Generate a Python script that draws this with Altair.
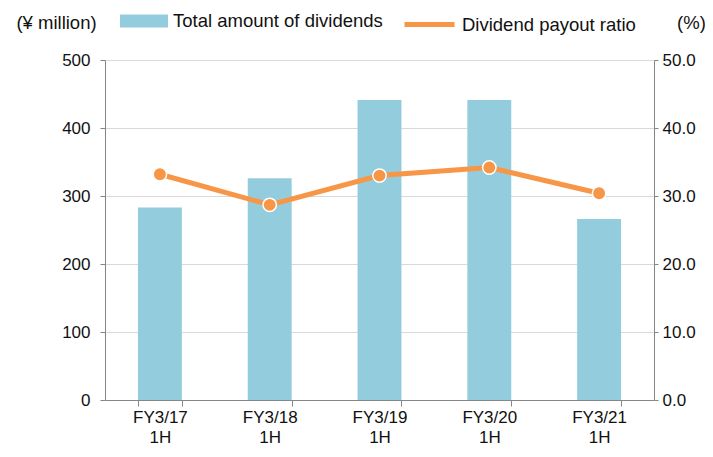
import altair as alt
import pandas as pd

categories = ["FY3/17\n1H", "FY3/18\n1H", "FY3/19\n1H", "FY3/20\n1H", "FY3/21\n1H"]
dividends = [283, 326, 441, 441, 266]
payout = [33.2, 28.7, 33.0, 34.2, 30.4]
bar_name = "Total amount of dividends"
line_name = "Dividend payout ratio"

BLUE = "#93CDDD"
ORANGE = "#F79646"
FONT = "Liberation Sans"
TXT = "#111111"

df = pd.DataFrame({
    "cat": categories,
    "div": dividends,
    "pct": payout,
    "bs": [bar_name] * len(categories),
    "ls": [line_name] * len(categories),
})

xenc = alt.X(
    "cat:N", sort=categories, title=None,
    scale=alt.Scale(paddingInner=0.6, paddingOuter=0.3),
    axis=alt.Axis(labelAngle=0, labelExpr="split(datum.label, '\\n')",
                  labelLineHeight=20, labelFontSize=17, labelPadding=3,
                  tickBand="extent", tickSize=6, domainColor="#868686",
                  tickColor="#868686", labelColor=TXT, grid=False,
                  labelBaseline="top"),
)

bars = alt.Chart(df).mark_bar().encode(
    x=xenc,
    y=alt.Y("div:Q", scale=alt.Scale(domain=[0, 500]),
            axis=alt.Axis(values=[0, 100, 200, 300, 400, 500], title="(¥ million)",
                          titleAngle=0, titleX=-49, titleY=-38, titleAlign="center",
                          titleBaseline="middle", titleFontSize=18.5, titleFontWeight="normal",
                          titleColor=TXT,
                          labelFontSize=17, labelPadding=10, tickSize=5,
                          domainColor="#868686", tickColor="#868686", labelColor=TXT,
                          grid=True, gridColor="#D9D9D9", gridWidth=1)),
    color=alt.Color("bs:N", scale=alt.Scale(range=[BLUE]),
                    legend=alt.Legend(orient="none", legendX=15, legendY=-63, title=None,
                                      symbolType="M-1,-0.27L1,-0.27L1,0.27L-1,0.27Z",
                                      symbolSize=2304, symbolStrokeWidth=0, labelLimit=400,
                                      labelFontSize=18.5, labelOffset=5, labelColor=TXT)),
)

line = alt.Chart(df).mark_line(strokeWidth=5).encode(
    x=alt.X("cat:N", sort=categories),
    y=alt.Y("pct:Q", scale=alt.Scale(domain=[0, 50]),
            axis=alt.Axis(orient="right", values=[0, 10, 20, 30, 40, 50], format=".1f",
                          title="(%)", titleAngle=0, titleX=37, titleY=-38,
                          titleAlign="center", titleBaseline="middle", titleFontSize=18.5,
                          titleFontWeight="normal", titleColor=TXT,
                          labelFontSize=17, labelPadding=4, tickSize=4,
                          domainColor="#868686", tickColor="#868686", labelColor=TXT,
                          grid=False)),
    stroke=alt.Stroke("ls:N", scale=alt.Scale(range=[ORANGE]),
                      legend=alt.Legend(orient="none", legendX=297, legendY=-63, title=None,
                                        symbolType="M-1,0L1,0", labelLimit=400,
                                        symbolSize=2500, symbolStrokeWidth=5,
                                        labelFontSize=18.5, labelOffset=5, labelColor=TXT)),
)

points = alt.Chart(df).mark_point(filled=True, size=180, color=ORANGE, stroke="white",
                                  strokeWidth=1.5, opacity=1).encode(
    x=alt.X("cat:N", sort=categories),
    y=alt.Y("pct:Q", scale=alt.Scale(domain=[0, 50])),
)

right = alt.layer(line, points)

chart = alt.layer(bars, right).resolve_scale(y="independent", color="independent").properties(
    width=549, height=340,
    autosize=alt.AutoSizeParams(type="none"),
    padding={"left": 97, "top": 52, "right": 51, "bottom": 49},
).configure(font=FONT).configure_view(stroke=None)

chart.save("out.html", embed_options={"renderer": "svg", "actions": False})
